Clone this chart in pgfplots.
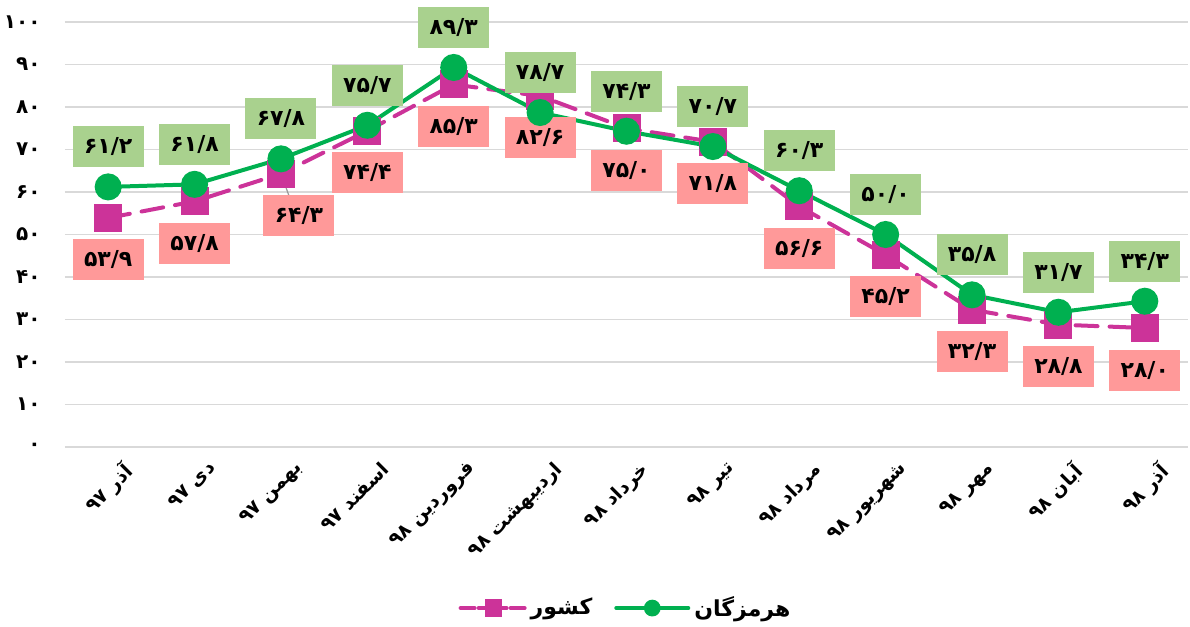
\documentclass[border=0pt]{standalone}
\usepackage{pgfplots}
\pgfplotsset{compat=1.18}
\usepackage{pgfplotstable}
\usepackage{fontspec}
\TeXXeTstate=1
\newfontfamily\pfont[Script=Arabic]{DejaVu Sans}
\definecolor{gline}{HTML}{00B050}
\definecolor{pline}{HTML}{CC3399}
\definecolor{gbox}{HTML}{A9D18E}
\definecolor{pbox}{HTML}{FF9999}
\definecolor{gridc}{HTML}{D9D9D9}

\pgfplotstableread{
x y dx lab
0 53.9 0 ۵۳/۹
1 57.8 0 ۵۷/۸
2 64.3 9 ۶۴/۳
3 74.4 0 ۷۴/۴
4 85.3 0 ۸۵/۳
5 82.6 0 ۸۲/۶
6 75.0 0 ۷۵/۰
7 71.8 0 ۷۱/۸
8 56.6 0 ۵۶/۶
9 45.2 0 ۴۵/۲
10 32.3 0 ۳۲/۳
11 28.8 0 ۲۸/۸
12 28.0 0 ۲۸/۰
}\keshvar

\pgfplotstableread{
x y dx lab
0 61.2 0 ۶۱/۲
1 61.8 0 ۶۱/۸
2 67.8 0 ۶۷/۸
3 75.7 0 ۷۵/۷
4 89.3 0 ۸۹/۳
5 78.7 0 ۷۸/۷
6 74.3 0 ۷۴/۳
7 70.7 0 ۷۰/۷
8 60.3 0 ۶۰/۳
9 50.0 0 ۵۰/۰
10 35.8 0 ۳۵/۸
11 31.7 0 ۳۱/۷
12 34.3 0 ۳۴/۳
}\hormozgan

\begin{document}
\begin{tikzpicture}
\path[use as bounding box] (-32.5pt,-90pt) rectangle (562.5pt,223.5pt);
\begin{axis}[
  at={(0pt,0pt)}, anchor=south west,
  scale only axis, width=561.5pt, height=212.5pt,
  xmin=-0.5, xmax=12.5, ymin=0, ymax=100,
  clip=false,
  axis line style={draw=none},
  tick style={draw=none},
  major tick length=0pt,
  ymajorgrids, grid style={gridc, line width=0.75pt},
  ytick={0,10,...,100},
  yticklabels={۰,۱۰,۲۰,۳۰,۴۰,۵۰,۶۰,۷۰,۸۰,۹۰,۱۰۰},
  yticklabel style={font=\pfont\bfseries\fontsize{10}{12}\selectfont, anchor=east, inner sep=0pt, xshift=-12pt},
  xtick={0,...,12},
  xticklabels={
    {\beginR آذر ۹۷\endR},
    {\beginR دی ۹۷\endR},
    {\beginR بهمن ۹۷\endR},
    {\beginR اسفند ۹۷\endR},
    {\beginR فروردین ۹۸\endR},
    {\beginR اردیبهشت ۹۸\endR},
    {\beginR خرداد ۹۸\endR},
    {\beginR تیر ۹۸\endR},
    {\beginR مرداد ۹۸\endR},
    {\beginR شهریور ۹۸\endR},
    {\beginR مهر ۹۸\endR},
    {\beginR آبان ۹۸\endR},
    {\beginR آذر ۹۸\endR}},
  xticklabel style={font=\pfont\bfseries\fontsize{9.5}{11}\selectfont, rotate=45, anchor=north east, inner sep=0pt, yshift=-9pt},
  legend style={at={(0.5,-0.379)}, anchor=center, draw=none, fill=none,
    font=\pfont\bfseries\fontsize{11}{13}\selectfont,
    /tikz/every even column/.append style={column sep=9pt}},
  legend columns=2,
  point meta=explicit symbolic,
  nodes near coords,
  visualization depends on={\thisrow{dx} \as \dx},
]
\draw[gray!80, line width=0.6pt] (axis cs:2,64.3) -- (axis cs:2.12,57.6);
\addplot[pline, line width=2pt, dash pattern=on 11pt off 6pt, line cap=round,
  mark=square*, mark size=6pt, mark options={solid, fill=pline, draw=pline},
  legend image code/.code={
    \draw[pline, solid, line width=2pt, line cap=round] (0pt,0pt) -- (7pt,0pt);
    \draw[pline, solid, line width=2pt, line cap=round] (25pt,0pt) -- (32pt,0pt);
    \draw[pline, solid, line width=2pt] (9pt,0pt) -- (23pt,0pt);
    \path[fill=pline, draw=none] (12pt,-4.3pt) rectangle (20.6pt,4.3pt);},
  every node near coord/.append style={anchor=center, yshift=-21pt, xshift=\dx*1pt,
    fill=pbox, text=black, minimum width=35.5pt, minimum height=20.5pt, inner sep=0pt,
    font=\pfont\bfseries\fontsize{11}{13}\selectfont}]
  table[x=x, y=y, meta=lab] {\keshvar};
\addlegendentry{کشور}
\addplot[gline, line width=2pt, mark=*, mark size=5.75pt, mark options={fill=gline, draw=gline},
  legend image code/.code={
    \draw[gline, line width=2pt, line cap=round] (0pt,0pt) -- (36pt,0pt);
    \path[fill=gline, draw=none] (18pt,0pt) circle[radius=4.2pt];},
  every node near coord/.append style={anchor=center, yshift=20pt, xshift=\dx*1pt,
    fill=gbox, text=black, minimum width=35.5pt, minimum height=20.5pt, inner sep=0pt,
    font=\pfont\bfseries\fontsize{11}{13}\selectfont}]
  table[x=x, y=y, meta=lab] {\hormozgan};
\addlegendentry{هرمزگان}
\end{axis}
\end{tikzpicture}
\end{document}
